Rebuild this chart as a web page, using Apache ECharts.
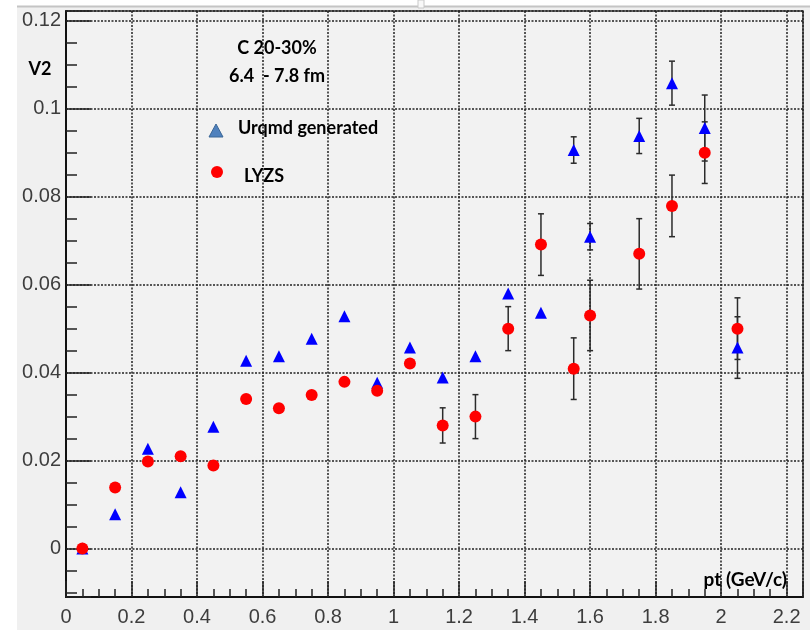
<!DOCTYPE html>
<html>
<head>
<meta charset="utf-8">
<script src="https://cdn.jsdelivr.net/npm/echarts@6/dist/echarts.min.js"></script>
<style>
  html, body { margin: 0; padding: 0; background: #ffffff; }
  #chart { width: 810px; height: 630px; }
</style>
</head>
<body>
<div id="chart"></div>
<script>
// pt bin centres (GeV/c)
const ptBins = [0.05, 0.15, 0.25, 0.35, 0.45, 0.55, 0.65, 0.75, 0.85, 0.95,
                1.05, 1.15, 1.25, 1.35, 1.45, 1.55, 1.6, 1.75, 1.85, 1.95, 2.05];

// v2 from UrQMD generated events
const v2Urqmd = [0.0, 0.0078, 0.0227, 0.0128, 0.0277, 0.0427, 0.0437, 0.0477, 0.0528, 0.0377,
                 0.0457, 0.0389, 0.0437, 0.0580, 0.0536, 0.0906, 0.0709, 0.0938, 0.1058, 0.0956, 0.0457];
const errUrqmd = [null, null, null, null, null, null, null, null, null, null,
                  null, null, null, null, null, 0.003, 0.003, 0.004, 0.005, 0.0075, 0.007];

// v2 reconstructed with Lee-Yang zeros (sum generating function)
const v2Lyzs = [0.0, 0.0139, 0.0198, 0.0210, 0.0189, 0.0340, 0.0319, 0.0349, 0.0379, 0.0359,
                0.0421, 0.0280, 0.0300, 0.0500, 0.0691, 0.0409, 0.0530, 0.0670, 0.0779, 0.0900, 0.0500];
const errLyzs = [null, null, null, null, null, null, null, null, null, null,
                 null, 0.004, 0.005, 0.005, 0.007, 0.007, 0.008, 0.008, 0.007, 0.007, 0.007];

// axis ranges
const xRange = [0, 2.25];
const xStep = 0.2;
const yRange = [-0.011, 0.1222];

const pairs = (xs, ys) => xs.map((x, i) => [x, ys[i]]);

function errorBars(xs, ys, errs) {
  const data = [];
  xs.forEach((x, i) => {
    if (errs[i] != null) data.push([x, ys[i] - errs[i], ys[i] + errs[i]]);
  });
  return {
    type: 'custom',
    silent: true,
    z: 2,
    data: data,
    encode: { x: 0, y: [1, 2] },
    renderItem: function (params, api) {
      const x = api.value(0);
      const lo = api.coord([x, api.value(1)]);
      const hi = api.coord([x, api.value(2)]);
      const w = 3;
      const st = { stroke: '#2b2b2b', lineWidth: 1.5 };
      return {
        type: 'group',
        children: [
          { type: 'line', shape: { x1: lo[0], y1: lo[1], x2: hi[0], y2: hi[1] }, style: st },
          { type: 'line', shape: { x1: lo[0] - w, y1: lo[1], x2: lo[0] + w, y2: lo[1] }, style: st },
          { type: 'line', shape: { x1: hi[0] - w, y1: hi[1], x2: hi[0] + w, y2: hi[1] }, style: st }
        ]
      };
    }
  };
}

const labelFont = { fontFamily: 'Liberation Sans', fontSize: 20, color: '#3d3d3d' };
const noteFont = 'bold 18px Lato';
const gridDots = { show: true, lineStyle: { color: '#222222', width: 1.5, type: [2, 1.5] } };

const chart = echarts.init(document.getElementById('chart'), null, { renderer: 'canvas' });

chart.setOption({
  backgroundColor: '#ffffff',
  animation: false,
  grid: {
    left: 66, right: 7, top: 11, bottom: 33,
    show: true, backgroundColor: '#f2f2f2', borderColor: '#3a3a3a', borderWidth: 1.5
  },
  xAxis: {
    type: 'value',
    min: xRange[0], max: xRange[1], interval: xStep,
    axisLine: { show: true, onZero: false, lineStyle: { color: '#111111', width: 2 } },
    axisTick: { show: true, inside: true, length: 16, lineStyle: { color: '#222222', width: 1.5 } },
    minorTick: { show: true, splitNumber: 4, length: 8, lineStyle: { color: '#222222', width: 1.5 } },
    splitLine: gridDots,
    axisLabel: Object.assign({ margin: 10, showMaxLabel: false }, labelFont)
  },
  yAxis: {
    type: 'value',
    min: yRange[0], max: yRange[1], splitNumber: 7,
    axisLine: { show: true, onZero: false, lineStyle: { color: '#111111', width: 2 } },
    axisTick: { show: true, inside: true, length: 25, lineStyle: { color: '#222222', width: 1.5 } },
    minorTick: { show: true, splitNumber: 4, length: 11, lineStyle: { color: '#222222', width: 1.5 } },
    splitLine: gridDots,
    axisLabel: Object.assign({ margin: 5, showMinLabel: false, showMaxLabel: false }, labelFont)
  },
  series: [
    errorBars(ptBins, v2Urqmd, errUrqmd),
    errorBars(ptBins, v2Lyzs, errLyzs),
    {
      name: 'Urqmd generated',
      type: 'scatter',
      z: 3,
      symbol: 'triangle',
      symbolSize: [12, 12],
      itemStyle: { color: '#0000ff', opacity: 1 },
      data: pairs(ptBins, v2Urqmd)
    },
    {
      name: 'LYZS',
      type: 'scatter',
      z: 4,
      symbol: 'circle',
      symbolSize: 12,
      itemStyle: { color: '#ff0000', opacity: 1 },
      data: pairs(ptBins, v2Lyzs)
    }
  ],
  graphic: [
    // canvas frame behind the pad
    { type: 'rect', z: -10, silent: true, shape: { x: 17, y: 7, width: 793, height: 623 },
      style: { fill: '#f0f0f0' } },
    { type: 'line', z: -9, silent: true, shape: { x1: 17, y1: 6.5, x2: 810, y2: 6.5 },
      style: { stroke: '#c4c4c4', lineWidth: 2 } },
    { type: 'rect', z: -8, silent: true, shape: { x: 418, y: 0, width: 6, height: 8 },
      style: { fill: '#f8f8f8', stroke: '#c8c8c8', lineWidth: 1 } },
    // annotations
    { type: 'text', z: 20, style: { x: 277, y: 48, text: 'C 20-30%', font: noteFont, fill: '#000', align: 'center', verticalAlign: 'middle' } },
    { type: 'text', z: 20, style: { x: 277, y: 76, text: '6.4  - 7.8 fm', font: noteFont, fill: '#000', align: 'center', verticalAlign: 'middle' } },
    { type: 'text', z: 20, style: { x: 40, y: 69, text: 'V2', font: noteFont, fill: '#000', align: 'center', verticalAlign: 'middle' } },
    { type: 'text', z: 20, style: { x: 787, y: 580, text: 'pt (GeV/c)', font: 'bold 19px Lato', fill: '#000', align: 'right', verticalAlign: 'middle' } },
    // legend
    { type: 'polygon', z: 20, shape: { points: [[216, 124], [223, 137], [209, 137]] },
      style: { fill: '#4f81bd', stroke: '#3a6696', lineWidth: 1 } },
    { type: 'text', z: 20, style: { x: 238, y: 128, text: 'Urqmd generated', font: noteFont, fill: '#000', align: 'left', verticalAlign: 'middle' } },
    { type: 'circle', z: 20, shape: { cx: 217, cy: 172, r: 6 }, style: { fill: '#ff0000' } },
    { type: 'text', z: 20, style: { x: 244, y: 176, text: 'LYZS', font: noteFont, fill: '#000', align: 'left', verticalAlign: 'middle' } }
  ]
});
</script>
</body>
</html>
